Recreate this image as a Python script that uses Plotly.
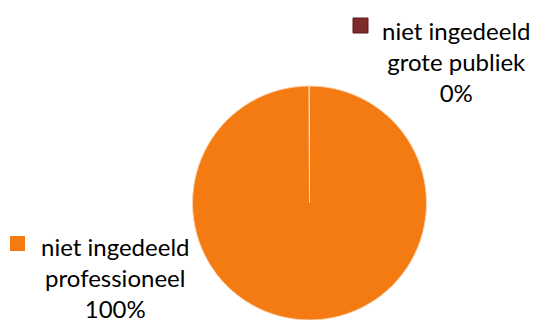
import plotly.graph_objects as go

labels = ['niet ingedeeld professioneel', 'niet ingedeeld grote publiek']
values = [100.0, 0.05]
colors = ['#F47A12', '#7E2B2B']

total = sum(values)
pct = [f"{round(v / total * 100)}%" for v in values]

W, H = 541, 320
OFF = 8  # page body margin offsets the plot div


def px_x(x):
    return (x - OFF) / W


def px_y(y):
    return 1 - (y - OFF) / H


fig = go.Figure(go.Pie(
    labels=labels,
    values=values,
    sort=False,
    direction='clockwise',
    rotation=0,
    marker=dict(colors=colors, line=dict(color='#FBD3B0', width=1)),
    textinfo='none',
    hoverinfo='label+percent',
    showlegend=False,
    domain=dict(x=[px_x(192.5), px_x(426.5)], y=[px_y(320), px_y(86)]),
))

font = dict(family='Lato, Calibri, sans-serif', size=24, color='#000000')

# label for first slice (bottom left)
fig.add_annotation(x=px_x(115), y=px_y(277), xref='paper', yref='paper',
                   text='niet ingedeeld<br>professioneel<br>' + pct[0],
                   showarrow=False, font=font, align='center',
                   xanchor='center', yanchor='middle')
fig.add_shape(type='rect', xref='paper', yref='paper',
              x0=px_x(10), x1=px_x(25), y0=px_y(251), y1=px_y(236),
              fillcolor=colors[0], line=dict(width=0))

# label for second slice (top right)
fig.add_annotation(x=px_x(456), y=px_y(61), xref='paper', yref='paper',
                   text='niet ingedeeld<br>grote publiek<br>' + pct[1],
                   showarrow=False, font=font, align='center',
                   xanchor='center', yanchor='middle')
fig.add_shape(type='rect', xref='paper', yref='paper',
              x0=px_x(353), x1=px_x(368), y0=px_y(33), y1=px_y(18),
              fillcolor=colors[1], line=dict(color='#5A1A1A', width=1))

fig.update_layout(
    width=W, height=H,
    margin=dict(l=0, r=0, t=0, b=0),
    paper_bgcolor='white',
    plot_bgcolor='white',
)

fig.write_html("out.html")
